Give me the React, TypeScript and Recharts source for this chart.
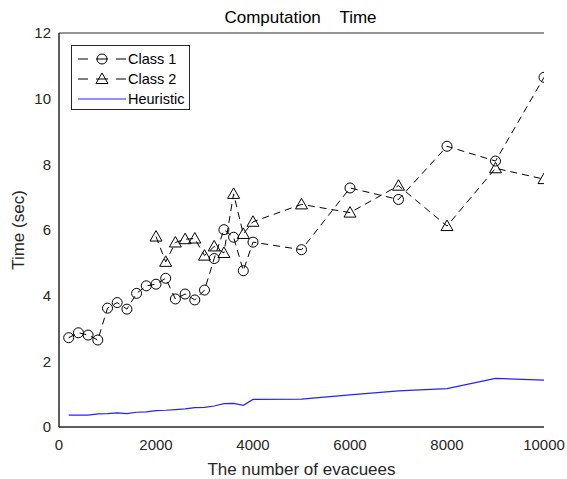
import { LineChart, Line, XAxis, YAxis } from 'recharts';

const FONT = '"Liberation Sans", Arial, sans-serif';
const AXIS = '#262626';

// x positions (number of evacuees)
const X_SMALL = [200, 400, 600, 800, 1000, 1200, 1400, 1600, 1800, 2000, 2200, 2400, 2600, 2800, 3000, 3200, 3400, 3600, 3800, 4000];
const X_LARGE = [5000, 6000, 7000, 8000, 9000, 10000];
const X_CLASS2 = [2000, 2200, 2400, 2600, 2800, 3000, 3200, 3400, 3600, 3800, 4000];

const CLASS1 = [2.72, 2.87, 2.8, 2.65, 3.62, 3.79, 3.59, 4.07, 4.3, 4.35, 4.53, 3.9, 4.05, 3.87, 4.17, 5.13, 6.01, 5.78, 4.76, 5.63,
  5.4, 7.28, 6.93, 8.55, 8.1, 10.65];
const CLASS2 = [5.8, 5.03, 5.62, 5.72, 5.74, 5.22, 5.5, 5.3, 7.1, 5.88, 6.25,
  6.78, 6.53, 7.35, 6.12, 7.88, 7.55];
const HEURISTIC = [0.36, 0.36, 0.36, 0.4, 0.41, 0.43, 0.41, 0.45, 0.46, 0.5, 0.51, 0.53, 0.55, 0.59, 0.6, 0.64, 0.71, 0.72, 0.66, 0.84,
  0.85, 0.98, 1.1, 1.17, 1.48, 1.43];

const X_TICKS = [0, 2000, 4000, 6000, 8000, 10000];
const Y_TICKS = [0, 2, 4, 6, 8, 10, 12];

const class1Data = [...X_SMALL, ...X_LARGE].map((n, i) => ({ n, t: CLASS1[i] }));
const class2Data = [...X_CLASS2, ...X_LARGE].map((n, i) => ({ n, t: CLASS2[i] }));
const heurData = [...X_SMALL, ...X_LARGE].map((n, i) => ({ n, t: HEURISTIC[i] }));

const Circle = ({ cx, cy }: any) => <circle cx={cx} cy={cy} r={5} fill="none" stroke="#000" strokeWidth={1} />;
const Tri = ({ cx, cy }: any) => (
  <polygon points={`${cx},${cy - 6} ${cx - 6},${cy + 4.5} ${cx + 6},${cy + 4.5}`} fill="none" stroke="#000" strokeWidth={1} />
);

const tickStyle = { fill: AXIS, fontSize: 15, fontFamily: FONT };
const labelFont = { fill: AXIS, fontSize: 17, fontFamily: FONT };

export default function App() {
  return (
    <div style={{ position: 'relative', width: 567, height: 479, background: '#fff', fontFamily: FONT }}>
      <style>{'body{margin:0}'}</style>
      <div style={{ position: 'absolute', left: 0, width: 601, top: 8, lineHeight: '19px', textAlign: 'center', fontSize: 17, color: '#000', whiteSpace: 'pre' }}>
        Computation    Time
      </div>
      <LineChart width={567} height={479} margin={{ top: 33, right: 23, left: 0, bottom: 0 }}>
        <XAxis type="number" dataKey="n" domain={[0, 10000]} ticks={X_TICKS} height={52} tickLine={false} tickSize={5} tickMargin={7}
          stroke={AXIS} tick={tickStyle} allowDataOverflow
          label={{ value: 'The number of evacuees', position: 'insideBottom', offset: 4, ...labelFont }} />
        <XAxis xAxisId="b" type="number" dataKey="n" domain={[0, 10000]} ticks={X_TICKS} mirror tick={false} tickSize={5} stroke={AXIS} />
        <XAxis xAxisId="top" orientation="top" type="number" dataKey="n" domain={[0, 10000]} ticks={X_TICKS} mirror tick={false} tickSize={5} stroke={AXIS} />
        <YAxis type="number" domain={[0, 12]} ticks={Y_TICKS} width={59} tickLine={false} tickSize={5} tickMargin={3}
          stroke={AXIS} tick={tickStyle}
          label={{ value: 'Time (sec)', angle: -90, position: 'insideLeft', offset: 18, ...labelFont, style: { textAnchor: 'middle' } }} />
        <YAxis yAxisId="l" type="number" domain={[0, 12]} ticks={Y_TICKS} mirror tick={false} tickSize={5} stroke={AXIS} />
        <YAxis yAxisId="r" orientation="right" type="number" domain={[0, 12]} ticks={Y_TICKS} mirror tick={false} tickSize={5} width={0} stroke={AXIS} />
        <Line data={class1Data} dataKey="t" type="linear" stroke="#000" strokeWidth={1} strokeDasharray="7 5" dot={<Circle />} activeDot={false} isAnimationActive={false} />
        <Line data={class2Data} dataKey="t" type="linear" stroke="#000" strokeWidth={1} strokeDasharray="7 5" dot={<Tri />} activeDot={false} isAnimationActive={false} />
        <Line data={heurData} dataKey="t" type="linear" stroke="#2222ff" strokeWidth={1.2} dot={false} activeDot={false} isAnimationActive={false} />
      </LineChart>
      <div style={{ position: 'absolute', left: 71, top: 45, width: 117, height: 63, border: `1px solid ${AXIS}`, background: '#fff', fontSize: 14.5, color: '#000' }}>
        {[
          { name: 'Class 1', mark: 'c' },
          { name: 'Class 2', mark: 't' },
          { name: 'Heuristic', mark: 'h' },
        ].map((r, i) => (
          <div key={r.name} style={{ position: 'absolute', top: 4 + i * 20, left: 4, height: 18, display: 'flex', alignItems: 'center', whiteSpace: 'nowrap' }}>
            <svg width={52} height={18}>
              {r.mark === 'h' ? (
                <line x1={2} y1={9} x2={50} y2={9} stroke="#2222ff" strokeWidth={1.2} />
              ) : (
                <g stroke="#000" strokeWidth={1}>
                  <line x1={2} y1={9} x2={12} y2={9} />
                  <line x1={20} y1={9} x2={32} y2={9} />
                  <line x1={40} y1={9} x2={50} y2={9} />
                </g>
              )}
              {r.mark === 'c' && <circle cx={26} cy={9} r={5} fill="none" stroke="#000" />}
              {r.mark === 't' && <polygon points="26,3 20,13.5 32,13.5" fill="none" stroke="#000" />}
            </svg>
            <span style={{ marginLeft: 0 }}>{r.name}</span>
          </div>
        ))}
      </div>
    </div>
  );
}
